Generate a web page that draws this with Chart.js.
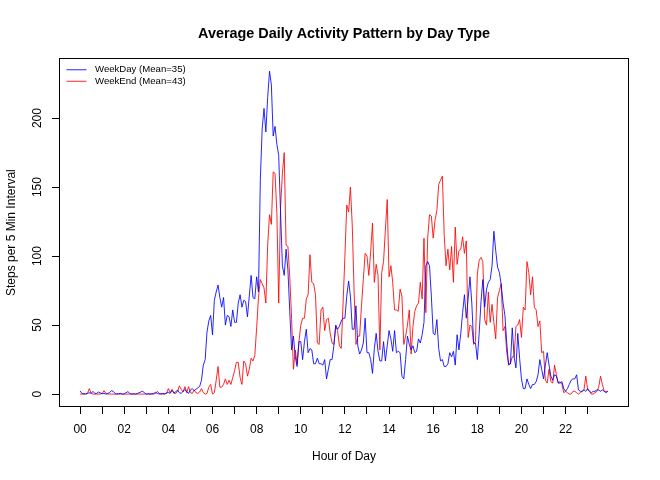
<!DOCTYPE html>
<html>
<head>
<meta charset="utf-8">
<script src="https://cdn.jsdelivr.net/npm/chart.js@4.4.1/dist/chart.umd.min.js"></script>
<style>
html,body{margin:0;padding:0;background:#fff;}
#wrap{width:660px;height:480px;}
</style>
</head>
<body>
<div id="wrap"><canvas id="c" width="660" height="480"></canvas></div>
<script>
// 5-minute interval averages, 288 per series (12 per hour)
const weekday = [
  2.3,0.5,0.2,0.2,0.4,1,0.5,2,0.5,0.5,1.5,0.8,
  0.3,0.5,0,0.5,1,2.5,2,0.5,0,0.3,0.5,0,
  0.2,1,1.8,0.5,0,0.2,0,0.3,1,1.5,2.2,0.8,
  0,0.3,0,0.2,0.5,1.2,0.5,0,0.2,0.5,0.2,0.8,
  1.2,0.5,2.8,1,1.5,3,1,0.5,2,3.4,1.5,0.5,
  3,4,2.5,3.5,4.5,5.5,10,21,25,45,53,57,
  43,68,74,79,70,63,70,50,57,56,49,61,
  52,52,66,72,63,68,67,56,71,86,70,69,
  85,74,155,192,207,190,215,234,224,187,194,181,
  173,132,93,86,105,90,60,32,42,27,20,38,
  38,25,38,47,30,33,32,22,22,26,22,22,
  21,25,11,18,25,25,35,50,47,49,53,55,
  55,71,82,71,47,47,64,35,29,32,37,55,
  30,30,25,15,33,44,31,24,24,38,24,35,
  46,40,31,46,30,31,30,13,11,25,42,36,
  32,35,30,31,40,37,43,52,93,96,93,71,
  44,43,54,33,24,25,20,20,22,30,27,31,
  21,43,32,44,59,72,55,69,85,66,37,37,
  25,44,67,83,63,76,81,83,93,118,104,92,
  88,79,66,57,37,21,22,48,27,19,44,26,
  11,4,4,11,7,4,7,7,9,14,25,18,
  11,21,30,21,13,10,14,13,8,8,9,4,
  2,4,7,10,11,11,14,3,2,2,3,2,
  4,2,1,2,2,3,3,2,3,2,1,2
];
const weekend = [
  0,0,0,0,0.5,4,0.5,0,0,0,0,0,
  0.5,2.5,0.5,0,0,0,0,0,0,0,0,0,
  0,0,0,0,0,0,0,0,0,0,0,0,
  0,0,0,0,0,0.5,2,0.5,0,0,0,0.5,
  4,1,3.4,0.5,0.5,2,6,3.4,1.5,5.4,1,5.4,
  1,0.5,3,1,0.5,1.5,4,1,0,0.5,5,7,
  0,1,10,20,5,5,7,11,7,10,7,12,
  17,23,23,12,7,24,22,13,18,26,24,28,
  48,70,83,80,77,66,108,130,123,161,160,131,
  66,135,160,175,108,107,85,55,18,32,22,38,
  50,55,55,69,72,101,81,80,72,37,36,61,
  63,46,54,55,44,37,36,49,46,35,33,66,
  100,137,132,150,122,74,36,42,42,64,83,102,
  100,86,103,124,81,94,86,32,88,96,119,141,
  85,93,81,61,61,60,76,71,36,42,50,61,
  29,49,60,64,66,81,69,113,59,113,130,129,
  113,126,133,152,155,158,115,93,105,90,107,81,
  121,94,104,105,114,102,111,41,50,49,36,38,
  87,97,99,96,54,50,74,52,65,52,40,70,
  75,80,46,49,30,22,22,27,27,49,50,54,
  41,63,61,96,88,72,85,63,61,49,53,30,
  31,10,8,18,9,8,21,14,8,9,7,1,
  2,1,0,0,2,2,1,0,1,2,3,13,
  3,2,0,0,1,2,5,13,7,2,2,2
];
const seriesNames = ["WeekDay (Mean=35)", "WeekEnd (Mean=43)"];
const hourTicks = [0,1,2,3,4,5,6,7,8,9,10,11,12,13,14,15,16,17,18,19,20,21,22,23];
const hourLabels = ["00","","02","","04","","06","","08","","10","","12","","14","","16","","18","","20","","22",""];
const yTicks = [0,50,100,150,200];

const FONT = "'Liberation Sans', Arial, Helvetica, sans-serif";
const hours = weekday.map((v,i)=> i*5/60);
const toPts = arr => arr.map((v,i)=>({x:hours[i], y:v}));

// R-style 4% axis extension
const xMin = hours[0], xMax = hours[hours.length-1];
const xPad = (xMax - xMin)*0.04;
const allY = weekday.concat(weekend);
const yMinD = Math.min(...allY), yMaxD = Math.max(...allY);
const yPad = (yMaxD - yMinD)*0.04;

const boxPlugin = {
  id:'box',
  afterDatasetsDraw(chart){
    const {ctx, chartArea:a} = chart;
    ctx.save();
    ctx.strokeStyle = '#000';
    ctx.lineWidth = 1;
    ctx.strokeRect(Math.round(a.left)+0.5, Math.round(a.top)+0.5, Math.round(a.right-a.left)-1, Math.round(a.bottom-a.top)-1);
    // legend
    const x0 = a.left + 7.5, x1 = a.left + 27.5, tx = a.left + 36;
    const ys = [a.top + 11.5, a.top + 23];
    ctx.font = "9.6px " + FONT;
    ctx.textBaseline = 'middle';
    ctx.textAlign = 'left';
    chart.data.datasets.forEach((d,i)=>{
      ctx.strokeStyle = d.borderColor;
      ctx.beginPath(); ctx.moveTo(x0, ys[i]); ctx.lineTo(x1, ys[i]); ctx.stroke();
      ctx.fillStyle = '#000';
      ctx.fillText(d.label, tx, ys[i]);
    });
    ctx.restore();
  }
};

new Chart(document.getElementById('c'), {
  type:'line',
  data:{
    datasets:[
      {label:seriesNames[0], data:toPts(weekday), borderColor:'rgba(0,0,255,0.85)', borderWidth:1, pointRadius:0, tension:0, fill:false},
      {label:seriesNames[1], data:toPts(weekend), borderColor:'rgba(255,0,0,0.85)', borderWidth:1, pointRadius:0, tension:0, fill:false}
    ]
  },
  options:{
    responsive:false,
    animation:false,
    events:[],
    layout:{padding:{left:0,right:31,top:0,bottom:0}},
    plugins:{
      legend:{display:false},
      tooltip:{enabled:false},
      title:{display:true, fullSize:false, text:'Average Daily Activity Pattern by Day Type', color:'#000',
        font:{family:FONT, size:14.4, weight:'bold'}, padding:{top:25.5, bottom:15.5}}
    },
    scales:{
      x:{
        type:'linear', min:xMin-xPad, max:xMax+xPad,
        grid:{display:true, drawOnChartArea:false, drawTicks:true, tickLength:7, color:'#000', lineWidth:1},
        border:{display:false},
        afterBuildTicks(s){ s.ticks = hourTicks.map(v=>({value:v})); },
        afterFit(s){ s.height = 73; },
        ticks:{autoSkip:false, maxRotation:0, minRotation:0, color:'#000', padding:8,
          font:{family:FONT, size:12},
          callback(v){ const i = hourTicks.indexOf(v); return i>=0 ? hourLabels[i] : ''; }},
        title:{display:true, text:'Hour of Day', color:'#000', font:{family:FONT, size:12}, padding:{top:0,bottom:16}}
      },
      y:{
        type:'linear', min:yMinD-yPad, max:yMaxD+yPad,
        grid:{display:true, drawOnChartArea:false, drawTicks:true, tickLength:7, color:'#000', lineWidth:1},
        border:{display:false},
        afterBuildTicks(s){ s.ticks = yTicks.map(v=>({value:v})); },
        afterFit(s){ s.width = 59; },
        ticks:{color:'#000', minRotation:90, maxRotation:90, crossAlign:'center', padding:4,
          font:{family:FONT, size:12}},
        title:{display:true, text:'Steps per 5 Min Interval', color:'#000', font:{family:FONT, size:12}, padding:{top:4,bottom:0}}
      }
    }
  },
  plugins:[boxPlugin]
});
</script>
</body>
</html>
